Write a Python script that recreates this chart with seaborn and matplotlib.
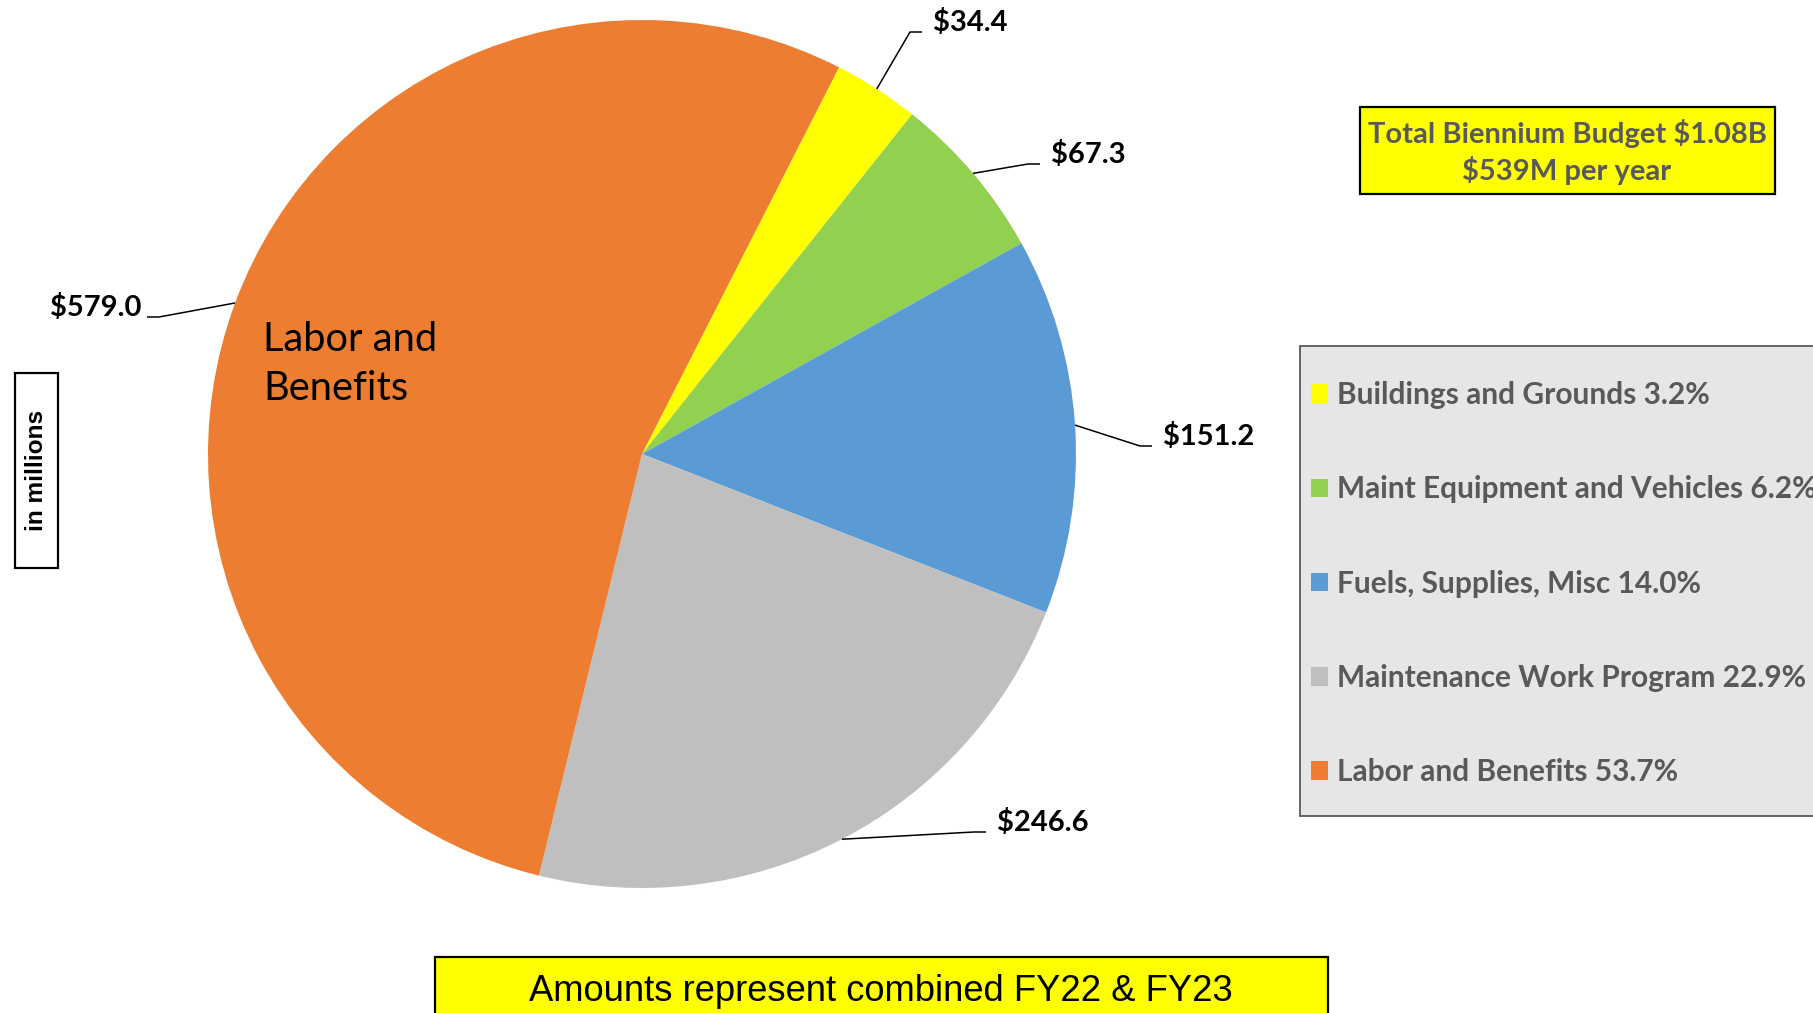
"""
Maintenance budget pie — combined FY22 & FY23, amounts in $ millions.
Writes out.png (1813 x 1013 px).
"""

import textwrap

import numpy as np
import matplotlib
matplotlib.use("Agg")
import matplotlib.pyplot as plt
import matplotlib.patches as mpatches
from matplotlib import font_manager
import seaborn as sns

# ── Data ──────────────────────────────────────────────────────────────────────
categories = [
    "Buildings and Grounds",
    "Maint Equipment and Vehicles",
    "Fuels, Supplies, Misc",
    "Maintenance Work Program",
    "Labor and Benefits",
]
amounts = [34.4, 67.3, 151.2, 246.6, 579.0]          # $ millions
colors  = ["#FFFF00", "#92D050", "#5B9BD5", "#BFBFBF", "#ED7D31"]

total_lines = ["Total Biennium Budget $1.08B", "$539M per year"]
unit_note   = "in millions"
footer_note = "Amounts represent combined FY22 & FY23"

# ── Layout (pixel coords, origin top-left) ────────────────────────────────────
W, H = 1813, 1013
PIE_CX, PIE_CY, PIE_R = 642, 454, 434
START_ANGLE = 63

# value label anchors: (x, y, side)  — x is the edge of the text nearest the pie
label_pos = [
    (933, 22, "left"),
    (1051, 154, "left"),
    (1163, 436, "left"),
    (997, 822, "left"),
    (141, 307, "right"),
]

GRAY_TXT = "#595959"
MAIN_FONT = ["Lato", "DejaVu Sans"]

installed = {f.name for f in font_manager.fontManager.ttflist}
if "Liberation Sans Narrow" in installed:
    FOOT_FONT, FOOT_SIZE = "Liberation Sans Narrow", 31
else:
    FOOT_FONT, FOOT_SIZE = "Liberation Sans", 26.2


def Y(y):
    """flip a top-left pixel y into data y"""
    return H - y


sns.set_theme(style="white")
plt.rcParams["font.family"] = MAIN_FONT

fig = plt.figure(figsize=(W / 100, H / 100), dpi=100)
fig.patch.set_facecolor("white")
ax = fig.add_axes([0, 0, 1, 1])

wedges, _ = ax.pie(
    amounts, colors=colors, startangle=START_ANGLE, counterclock=False,
    radius=PIE_R, center=(PIE_CX, Y(PIE_CY)),
    wedgeprops=dict(linewidth=0),
)
ax.set_xlim(0, W)
ax.set_ylim(0, H)
ax.set_aspect("auto")
ax.axis("off")

# ── Value labels with leader lines ────────────────────────────────────────────
for w, amt, (tx, ty, side) in zip(wedges, amounts, label_pos):
    mid = np.deg2rad((w.theta1 + w.theta2) / 2)
    ax0 = PIE_CX + PIE_R * np.cos(mid)
    ay0 = Y(PIE_CY) + PIE_R * np.sin(mid)
    ly = Y(ty + 10)
    if side == "left":
        xs = [ax0, tx - 23, tx - 11]
    else:
        xs = [ax0, tx + 18, tx + 6]
    ax.plot(xs, [ay0, ly, ly], color="black", lw=1.1, solid_capstyle="butt")
    ax.text(tx, Y(ty), f"${amt:.1f}", ha=side, va="center",
            fontsize=21, fontweight="bold", color="black")

# label inside the biggest slice
ax.text(263, Y(364), textwrap.fill(categories[-1], 10), ha="left", va="center",
        fontsize=28.7, color="black", linespacing=1.43)

# ── Legend (frame drawn separately so it can run off the right edge) ─────────
ax.add_patch(mpatches.Rectangle((1300, Y(816)), 600, 470, facecolor="#E7E6E6",
                                edgecolor="#595959", lw=1.3, zorder=1))
total = sum(amounts)
leg_labels = [f"{c} {a / total * 100:.1f}%" for c, a in zip(categories, amounts)]
leg = ax.legend(
    wedges, leg_labels, loc="upper left",
    bbox_to_anchor=(1311, Y(381)), bbox_transform=ax.transData,
    borderaxespad=0, borderpad=0, frameon=False,
    handlelength=0.57, handleheight=0.57, handletextpad=0.3,
    labelspacing=2.22,
    prop=dict(family=MAIN_FONT, weight="bold", size=21.5), labelcolor=GRAY_TXT,
)
leg.set_zorder(5)

# ── Total budget box ──────────────────────────────────────────────────────────
ax.add_patch(mpatches.Rectangle((1360, Y(194)), 415, 87, facecolor="#FFFF00",
                                edgecolor="black", lw=1.6, zorder=3))
ax.text(1567, Y(152), "\n".join(total_lines), ha="center", va="center",
        fontsize=21, fontweight="bold", color=GRAY_TXT, linespacing=1.35, zorder=4)

# ── "in millions" box ─────────────────────────────────────────────────────────
ax.add_patch(mpatches.Rectangle((15, Y(568)), 43, 195, facecolor="white",
                                edgecolor="black", lw=1.6, zorder=3))
ax.text(36.5, Y(470), unit_note, rotation=90, ha="center", va="center",
        family="Liberation Sans", fontsize=17.6, fontweight="bold",
        color="black", zorder=4)

# ── Footer box ────────────────────────────────────────────────────────────────
ax.add_patch(mpatches.Rectangle((435, Y(1030)), 893, 73, facecolor="#FFFF00",
                                edgecolor="black", lw=1.6, zorder=3, clip_on=False))
ax.text(881, Y(991), footer_note, ha="center", va="center",
        family=FOOT_FONT, fontsize=FOOT_SIZE, color="black", zorder=4)

fig.savefig("out.png", dpi=100, facecolor="white")
